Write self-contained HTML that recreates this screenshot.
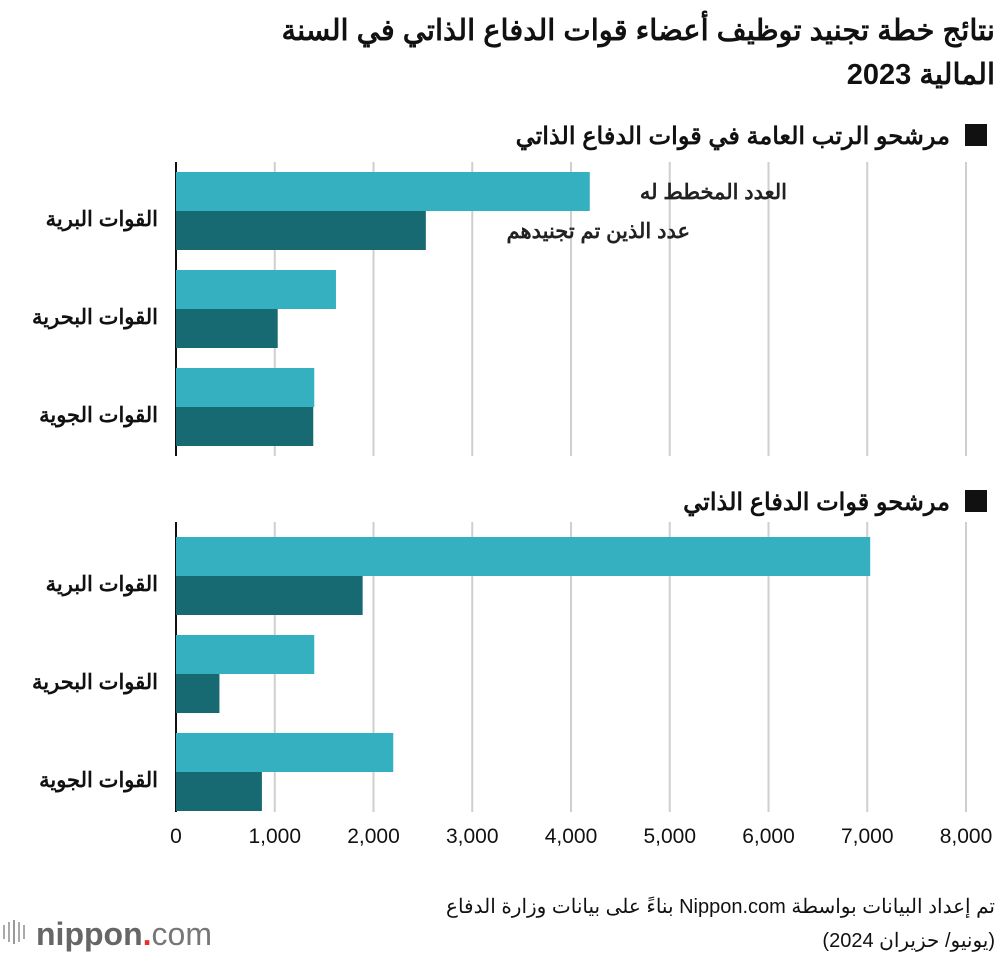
<!DOCTYPE html>
<html><head><meta charset="utf-8">
<style>
body{margin:0;background:#fff;width:1000px;height:958px;overflow:hidden;font-family:"Liberation Sans","Noto Sans CJK SC",sans-serif}
text{font-family:"Liberation Sans","Noto Sans CJK SC",sans-serif}
</style></head>
<body>
<svg id="chart" width="1000" height="958" xmlns="http://www.w3.org/2000/svg">
<text x="995" y="40" text-anchor="start" direction="rtl" font-size="29" font-weight="bold" fill="#111">نتائج خطة تجنيد توظيف أعضاء قوات الدفاع الذاتي في السنة</text>
<text x="995" y="84" text-anchor="start" direction="rtl" font-size="29" font-weight="bold" fill="#111">المالية 2023</text>
<rect x="965" y="124" width="22" height="22" fill="#111"/>
<text x="950" y="144" text-anchor="start" direction="rtl" font-size="24" font-weight="bold" fill="#111">مرشحو الرتب العامة في قوات الدفاع الذاتي</text>
<rect x="965" y="490" width="22" height="22" fill="#111"/>
<text x="950" y="510" text-anchor="start" direction="rtl" font-size="24" font-weight="bold" fill="#111">مرشحو قوات الدفاع الذاتي</text>
<g id="grid"></g><g id="bars"></g><g id="labels"></g>
<text x="787" y="199" text-anchor="start" direction="rtl" font-size="21" font-weight="bold" fill="#222">العدد المخطط له</text>
<text x="690" y="238" text-anchor="start" direction="rtl" font-size="21" font-weight="bold" fill="#222">عدد الذين تم تجنيدهم</text>
<text x="995" y="913" text-anchor="start" direction="rtl" font-size="20" fill="#111">تم إعداد البيانات بواسطة Nippon.com بناءً على بيانات وزارة الدفاع</text>
<text x="995" y="947" text-anchor="start" direction="rtl" font-size="20" fill="#111">(يونيو/ حزيران 2024)</text>
<g>
<rect x="3" y="925" width="2" height="14" fill="#aaa"/><rect x="8" y="922" width="2" height="20" fill="#aaa"/><rect x="13" y="920" width="2" height="24" fill="#999"/><rect x="18" y="922" width="2" height="20" fill="#aaa"/><rect x="23" y="925" width="2" height="14" fill="#aaa"/>
<text x="36" y="945" font-size="32" font-weight="bold" fill="#666">nippon<tspan fill="#e5312b">.</tspan><tspan font-weight="normal" fill="#777">com</tspan></text>
</g>
</svg>
<script>
const categories=["القوات البرية","القوات البحرية","القوات الجوية"];
const planned1=[4190,1620,1400];
const recruited1=[2530,1030,1390];
const planned2=[7030,1400,2200];
const recruited2=[1890,440,870];
const ticks=[0,1000,2000,3000,4000,5000,6000,7000,8000];
const tickLabels=["0","1,000","2,000","3,000","4,000","5,000","6,000","7,000","8,000"];
const NS="http://www.w3.org/2000/svg";
const x0=176,x1=966,xmax=8000;
function xs(v){return x0+(x1-x0)*v/xmax;}
function mk(tag,attrs,parent){const e=document.createElementNS(NS,tag);for(const k in attrs)e.setAttribute(k,attrs[k]);parent.appendChild(e);return e;}
const grid=document.getElementById('grid'),bars=document.getElementById('bars'),labels=document.getElementById('labels');
const panels=[{top:162,bottom:456,first:172,p:planned1,r:recruited1,id:"top"},{top:522,bottom:812,first:537,p:planned2,r:recruited2,id:"bottom"}];
panels.forEach(pn=>{
  ticks.forEach((t,i)=>{if(i===0)return;
    const l=mk('line',{x1:xs(t),x2:xs(t),y1:pn.top,y2:pn.bottom,stroke:'#cfcfcf','stroke-width':2},grid);
    
    
  });
  categories.forEach((c,i)=>{
    const y=pn.first+i*98;
    const b1=mk('rect',{x:x0,y:y,width:xs(pn.p[i])-x0,height:39,fill:'#35b0c0'},bars);
    
    
    const b2=mk('rect',{x:x0,y:y+39,width:xs(pn.r[i])-x0,height:39,fill:'#176a72'},bars);
    
    
    const t=mk('text',{x:158,y:y+54,'text-anchor':'start',direction:'rtl','font-size':21,'font-weight':'bold',fill:'#111'},labels);
    t.textContent=c;
    
    
  });
  const ax=mk('line',{x1:x0,x2:x0,y1:pn.top,y2:pn.bottom,stroke:'#111','stroke-width':2},grid);
  
  
});
ticks.forEach((t,i)=>{
  const e=mk('text',{x:xs(t),y:843,'text-anchor':'middle','font-size':21,fill:'#111'},labels);
  e.textContent=tickLabels[i];
  
  
});
</script>
</body></html>
